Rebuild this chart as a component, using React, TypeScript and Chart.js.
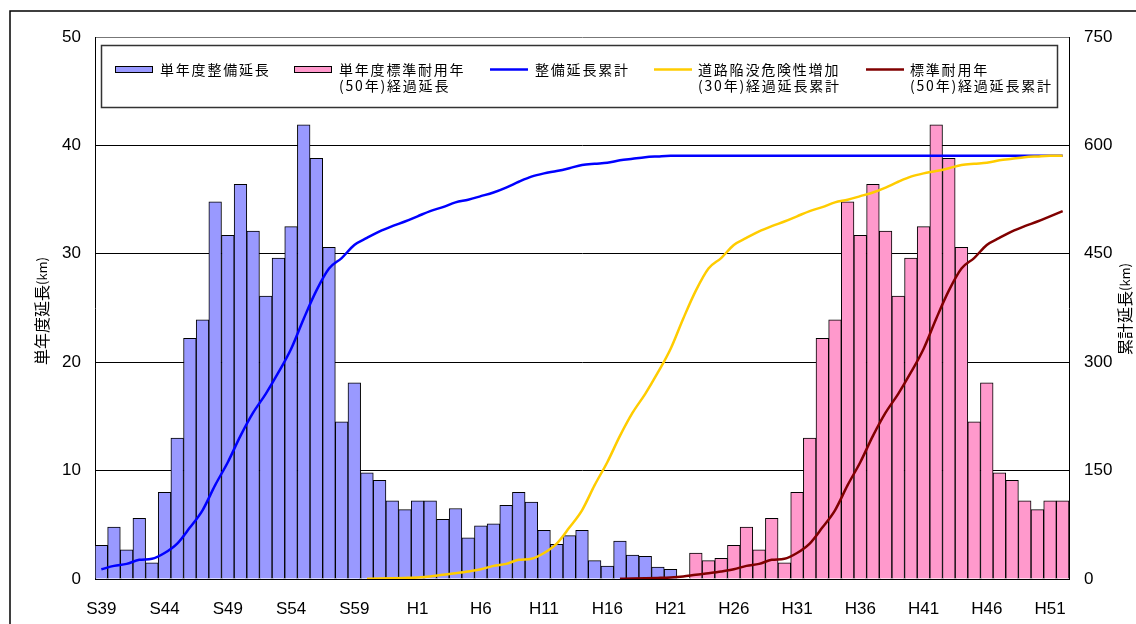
import { useEffect, useRef } from 'react';
import { Chart, registerables } from 'chart.js';

Chart.register(...registerables);

// Fiscal years, Showa 39 through Heisei 52
const years = [
  'S39', 'S40', 'S41', 'S42', 'S43', 'S44', 'S45', 'S46', 'S47', 'S48',
  'S49', 'S50', 'S51', 'S52', 'S53', 'S54', 'S55', 'S56', 'S57', 'S58',
  'S59', 'S60', 'S61', 'S62', 'S63',
  'H1', 'H2', 'H3', 'H4', 'H5', 'H6', 'H7', 'H8', 'H9', 'H10',
  'H11', 'H12', 'H13', 'H14', 'H15', 'H16', 'H17', 'H18', 'H19', 'H20',
  'H21', 'H22', 'H23', 'H24', 'H25', 'H26', 'H27', 'H28', 'H29', 'H30',
  'H31', 'H32', 'H33', 'H34', 'H35', 'H36', 'H37', 'H38', 'H39', 'H40',
  'H41', 'H42', 'H43', 'H44', 'H45', 'H46', 'H47', 'H48', 'H49', 'H50',
  'H51', 'H52',
];

// 単年度整備延長 (km), S39 .. H21
const builtPerYear = [
  3.1, 4.8, 2.7, 5.6, 1.5, 8.0, 13.0, 22.2, 23.9, 34.8,
  31.7, 36.4, 32.1, 26.1, 29.6, 32.5, 41.9, 38.8, 30.6, 14.5,
  18.1, 9.8, 9.1, 7.2, 6.4, 7.2, 7.2, 5.5, 6.5, 3.8,
  4.9, 5.1, 6.8, 8.0, 7.1, 4.5, 3.2, 4.0, 4.5, 1.7,
  1.2, 3.5, 2.2, 2.1, 1.1, 0.9,
];
const builtStart = 0;

// 単年度標準耐用年(50年)経過延長 (km), H23 .. H52
const expiredPerYear = [
  2.4, 1.7, 1.9, 3.1, 4.8, 2.7, 5.6, 1.5, 8.0, 13.0,
  22.2, 23.9, 34.8, 31.7, 36.4, 32.1, 26.1, 29.6, 32.5, 41.9,
  38.8, 30.6, 14.5, 18.1, 9.8, 9.1, 7.2, 6.4, 7.2, 7.2,
];
const expiredStart = 47;

// 整備延長累計 (km), S39 .. H52
const builtTotal = [
  13.4, 18.2, 20.9, 26.5, 28.0, 36.0, 49.0, 71.2, 95.1, 129.9,
  161.6, 198.0, 230.1, 256.2, 285.8, 318.3, 360.2, 399.0, 429.6, 444.1,
  462.2, 472.0, 481.1, 488.3, 494.7, 501.9, 509.1, 514.6, 521.1, 524.9,
  529.8, 534.9, 541.7, 549.7, 556.8, 561.3, 564.5, 568.5, 573.0, 574.7,
  575.9, 579.4, 581.6, 583.7, 584.8, 585.7, 585.7, 585.7, 585.7, 585.7,
  585.7, 585.7, 585.7, 585.7, 585.7, 585.7, 585.7, 585.7, 585.7, 585.7,
  585.7, 585.7, 585.7, 585.7, 585.7, 585.7, 585.7, 585.7, 585.7, 585.7,
  585.7, 585.7, 585.7, 585.7, 585.7, 585.7, 585.7,
];

// 道路陥没危険性増加(30年)経過延長累計 (km), S60 .. H52
const riskTotal = [
  0.3, 0.6, 1.0, 1.5, 2.2, 3.6, 6.0, 8.0, 10.3,
  13.4, 18.2, 20.9, 26.5, 28.0, 36.0, 49.0, 71.2, 95.1, 129.9,
  161.6, 198.0, 230.1, 256.2, 285.8, 318.3, 360.2, 399.0, 429.6, 444.1,
  462.2, 472.0, 481.1, 488.3, 494.7, 501.9, 509.1, 514.6, 521.1, 524.9,
  529.8, 534.9, 541.7, 549.7, 556.8, 561.3, 564.5, 568.5, 573.0, 574.7,
  575.9, 579.4, 581.6, 583.7, 584.8, 585.7, 585.7,
];
const riskStart = 21;

// 標準耐用年(50年)経過延長累計 (km), H17 .. H52
const expiredTotal = [
  0.3, 0.6, 1.0, 1.5, 2.2, 3.6, 6.0, 8.0, 10.3,
  13.4, 18.2, 20.9, 26.5, 28.0, 36.0, 49.0, 71.2, 95.1, 129.9,
  161.6, 198.0, 230.1, 256.2, 285.8, 318.3, 360.2, 399.0, 429.6, 444.1,
  462.2, 472.0, 481.1, 488.3, 494.7, 501.9, 509.1,
];
const expiredTotalStart = 41;

const annualAxis = { min: 0, max: 50, step: 10 };
const totalAxis = { min: 0, max: 750, step: 150 };

const COLORS = {
  builtBar: '#9999FF',
  expiredBar: '#FF99CC',
  builtLine: '#0000FF',
  riskLine: '#FFCC00',
  expiredLine: '#800000',
};

const LATIN = "'Liberation Sans', Arial, sans-serif";
const JP = "'Noto Sans CJK JP', 'Noto Sans', sans-serif";

function alignTo(start: number, values: number[]) {
  const out: (number | null)[] = new Array(years.length).fill(null);
  values.forEach((v, i) => {
    out[start + i] = v;
  });
  return out;
}

type LegendEntry = {
  kind: 'bar' | 'line';
  color: string;
  lines: string[];
  swatchX: number;
  textX: number;
};

const legendEntries: LegendEntry[] = [
  { kind: 'bar', color: COLORS.builtBar, lines: ['単年度整備延長'], swatchX: 115, textX: 160 },
  { kind: 'bar', color: COLORS.expiredBar, lines: ['単年度標準耐用年', '(50年)経過延長'], swatchX: 294, textX: 339 },
  { kind: 'line', color: COLORS.builtLine, lines: ['整備延長累計'], swatchX: 490, textX: 535 },
  { kind: 'line', color: COLORS.riskLine, lines: ['道路陥没危険性増加', '(30年)経過延長累計'], swatchX: 654, textX: 698 },
  { kind: 'line', color: COLORS.expiredLine, lines: ['標準耐用年', '(50年)経過延長累計'], swatchX: 866, textX: 910 },
];

function drawRotatedTitle(ctx: CanvasRenderingContext2D, cx: number, cy: number, parts: { text: string; font: string }[]) {
  ctx.save();
  ctx.translate(cx, cy);
  ctx.rotate(-Math.PI / 2);
  ctx.fillStyle = '#000';
  ctx.textBaseline = 'middle';
  ctx.textAlign = 'left';
  let total = 0;
  parts.forEach((p) => {
    ctx.font = p.font;
    total += ctx.measureText(p.text).width;
  });
  let x = -total / 2;
  parts.forEach((p) => {
    ctx.font = p.font;
    ctx.fillText(p.text, x, 0);
    x += ctx.measureText(p.text).width;
  });
  ctx.restore();
}

const decorations = {
  id: 'decorations',
  beforeDraw(chart: any) {
    const ctx: CanvasRenderingContext2D = chart.ctx;
    ctx.save();
    ctx.fillStyle = '#fff';
    ctx.fillRect(0, 0, chart.width, chart.height);
    ctx.strokeStyle = '#000';
    ctx.lineWidth = 1.5;
    ctx.strokeRect(10, 11, chart.width + 40, chart.height + 40);
    ctx.restore();
  },
  afterDraw(chart: any) {
    const ctx: CanvasRenderingContext2D = chart.ctx;
    ctx.save();

    // legend frame
    ctx.fillStyle = '#fff';
    ctx.fillRect(101, 45, 957, 63);
    ctx.strokeStyle = '#333';
    ctx.lineWidth = 1.5;
    ctx.strokeRect(101.5, 45.5, 956, 62);

    legendEntries.forEach((e) => {
      if (e.kind === 'bar') {
        ctx.fillStyle = e.color;
        ctx.fillRect(e.swatchX, 66, 38, 7);
        ctx.strokeStyle = '#000';
        ctx.lineWidth = 1;
        ctx.strokeRect(e.swatchX + 0.5, 66.5, 37, 6);
      } else {
        ctx.strokeStyle = e.color;
        ctx.lineWidth = 2.5;
        ctx.beginPath();
        ctx.moveTo(e.swatchX, 69.5);
        ctx.lineTo(e.swatchX + 38, 69.5);
        ctx.stroke();
      }
      ctx.fillStyle = '#000';
      ctx.font = `14px ${JP}`;
      (ctx as any).letterSpacing = '1.8px';
      ctx.textBaseline = 'middle';
      ctx.textAlign = 'left';
      e.lines.forEach((line, i) => {
        ctx.fillText(line, e.textX, 70 + i * 16);
      });
      (ctx as any).letterSpacing = '0px';
    });

    drawRotatedTitle(ctx, 42, 311, [
      { text: '単年度延長', font: `16px ${JP}` },
      { text: '(km)', font: `13px ${JP}` },
    ]);
    drawRotatedTitle(ctx, 1125, 309, [
      { text: '累計延長', font: `16px ${JP}` },
      { text: '(km)', font: `13px ${JP}` },
    ]);

    ctx.restore();
  },
};

export default function App() {
  const canvasRef = useRef<HTMLCanvasElement | null>(null);

  useEffect(() => {
    const canvas = canvasRef.current;
    if (!canvas) return;

    const chart = new Chart(canvas, {
      type: 'bar',
      data: {
        labels: years,
        datasets: [
          {
            type: 'line',
            label: '標準耐用年(50年)経過延長累計',
            data: alignTo(expiredTotalStart, expiredTotal),
            yAxisID: 'y1',
            borderColor: COLORS.expiredLine,
            borderWidth: 2.5,
            pointRadius: 0,
            cubicInterpolationMode: 'monotone',
            order: 0,
          },
          {
            type: 'line',
            label: '道路陥没危険性増加(30年)経過延長累計',
            data: alignTo(riskStart, riskTotal),
            yAxisID: 'y1',
            borderColor: COLORS.riskLine,
            borderWidth: 2.5,
            pointRadius: 0,
            cubicInterpolationMode: 'monotone',
            order: 1,
          },
          {
            type: 'line',
            label: '整備延長累計',
            data: alignTo(0, builtTotal),
            yAxisID: 'y1',
            borderColor: COLORS.builtLine,
            borderWidth: 2.5,
            pointRadius: 0,
            cubicInterpolationMode: 'monotone',
            order: 2,
          },
          {
            type: 'bar',
            label: '単年度標準耐用年(50年)経過延長',
            data: alignTo(expiredStart, expiredPerYear),
            yAxisID: 'y',
            backgroundColor: COLORS.expiredBar,
            borderColor: '#000',
            borderWidth: 1,
            grouped: false,
            categoryPercentage: 1,
            barPercentage: 1,
            order: 3,
          },
          {
            type: 'bar',
            label: '単年度整備延長',
            data: alignTo(builtStart, builtPerYear),
            yAxisID: 'y',
            backgroundColor: COLORS.builtBar,
            borderColor: '#000',
            borderWidth: 1,
            grouped: false,
            categoryPercentage: 1,
            barPercentage: 1,
            order: 4,
          },
        ] as any,
      },
      options: {
        responsive: false,
        animation: false,
        layout: { padding: { top: 37, left: 0, right: 0, bottom: 0 } },
        plugins: {
          legend: { display: false },
          tooltip: { enabled: false },
        },
        scales: {
          x: {
            grid: { display: false },
            border: { display: true, color: '#000', width: 1 },
            ticks: {
              autoSkip: false,
              maxRotation: 0,
              minRotation: 0,
              padding: 12,
              color: '#000',
              font: { family: LATIN, size: 17 },
              callback: (_v: any, index: number) => (index % 5 === 0 ? years[index] : ''),
            },
            afterFit: (scale: any) => {
              scale.height = 45;
            },
          },
          y: {
            position: 'left',
            min: annualAxis.min,
            max: annualAxis.max,
            grid: {
              color: (c: any) => (c.tick && c.tick.value === annualAxis.max ? '#777' : '#000'),
              lineWidth: 1,
              drawTicks: false,
            },
            border: { display: true, color: '#000', width: 1 },
            ticks: {
              stepSize: annualAxis.step,
              padding: 14,
              color: '#000',
              font: { family: LATIN, size: 17 },
            },
            afterFit: (scale: any) => {
              scale.width = 95;
            },
          },
          y1: {
            position: 'right',
            min: totalAxis.min,
            max: totalAxis.max,
            grid: { drawOnChartArea: false, drawTicks: false },
            border: { display: true, color: '#000', width: 1 },
            ticks: {
              stepSize: totalAxis.step,
              padding: 15,
              color: '#000',
              font: { family: LATIN, size: 17 },
            },
            afterFit: (scale: any) => {
              scale.width = 67;
            },
          },
        },
      } as any,
      plugins: [decorations],
    });

    return () => chart.destroy();
  }, []);

  return (
    <div style={{ position: 'fixed', left: 0, top: 0, width: 1136, height: 624, background: '#fff' }}>
      <canvas ref={canvasRef} width={1136} height={624} style={{ display: 'block' }} />
    </div>
  );
}
